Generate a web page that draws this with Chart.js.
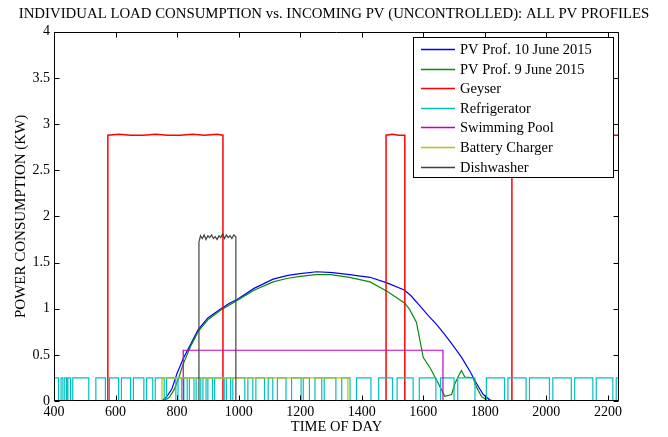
<!DOCTYPE html>
<html>
<head>
<meta charset="utf-8">
<script src="https://cdn.jsdelivr.net/npm/chart.js@4.4.1/dist/chart.umd.min.js"></script>
<style>
html, body { margin: 0; padding: 0; background: #fff; }
</style>
</head>
<body>
<canvas id="mycanvas" width="668" height="437"></canvas>
<script>
// time of day (x) and power in kW (y)
var pv10Time = [400, 751, 767, 783, 800, 810, 820, 842, 868, 900, 939, 970, 995, 1050, 1112, 1160, 1200, 1254, 1306, 1360, 1427, 1482, 1540, 1560, 1589, 1615, 1643, 1670, 1697, 1725, 1752, 1773, 1795, 1817, 1835, 2236];
var pv10Kw   = [0, 0, 0.05, 0.13, 0.30, 0.38, 0.46, 0.60, 0.77, 0.90, 0.99, 1.06, 1.10, 1.22, 1.32, 1.36, 1.38, 1.40, 1.39, 1.37, 1.34, 1.28, 1.20, 1.14, 1.03, 0.93, 0.83, 0.72, 0.60, 0.47, 0.32, 0.19, 0.07, 0.01, 0, 0];

var pv9Time = [400, 755, 775, 790, 805, 820, 845, 870, 900, 940, 995, 1050, 1112, 1160, 1200, 1250, 1300, 1360, 1427, 1482, 1540, 1556, 1578, 1589, 1600, 1622, 1649, 1670, 1692, 1703, 1719, 1724, 1735, 1762, 1773, 1789, 1806, 1820, 2236];
var pv9Kw   = [0, 0, 0.04, 0.12, 0.25, 0.40, 0.60, 0.76, 0.88, 0.98, 1.09, 1.20, 1.29, 1.33, 1.35, 1.37, 1.37, 1.34, 1.29, 1.19, 1.06, 0.99, 0.85, 0.66, 0.47, 0.36, 0.19, 0.05, 0.07, 0.19, 0.30, 0.33, 0.26, 0.25, 0.15, 0.05, 0.01, 0, 0];

var geyserTime = [400, 575, 575, 610, 650, 690, 730, 770, 810, 850, 890, 930, 949, 949, 1479, 1479, 1500, 1520, 1540, 1540, 1888, 1888, 1950, 2050, 2150, 2236];
var geyserKw   = [0, 0, 2.88, 2.89, 2.88, 2.88, 2.89, 2.88, 2.88, 2.89, 2.88, 2.89, 2.88, 0, 0, 2.88, 2.89, 2.88, 2.88, 0, 0, 2.88, 2.89, 2.88, 2.88, 2.88];

// refrigerator on-periods [start, end] at fridgeLevel kW, off otherwise
var fridgeLevel = 0.25;
var fridgeOn = [
  [400, 415], [423, 429], [435, 441], [445, 454], [461, 513], [536, 567], [580, 610], [619, 649], [658, 692], [701, 721], [729, 758],
  [766, 796], [803, 815], [822, 833], [840, 855], [862, 877], [884, 894], [900, 915], [922, 953], [960, 974], [981, 1020], [1030, 1046],
  [1056, 1084], [1096, 1111], [1126, 1154], [1172, 1203], [1210, 1230], [1248, 1270], [1278, 1316], [1335, 1362],
  [1383, 1430], [1455, 1500], [1515, 1567], [1587, 1641], [1656, 1700], [1712, 1768],
  [1805, 1864], [1875, 1934], [1945, 2010], [2021, 2081], [2092, 2151], [2162, 2216], [2227, 2236]
];

var poolTime = [400, 820, 820, 1000, 1200, 1400, 1600, 1664, 1664, 2236];
var poolKw   = [0, 0, 0.55, 0.55, 0.55, 0.55, 0.55, 0.55, 0, 0];

var chargerTime = [400, 751, 751, 900, 1050, 1200, 1355, 1355, 2236];
var chargerKw   = [0, 0, 0.25, 0.25, 0.25, 0.25, 0.25, 0, 0];

var dishTime = [400, 871, 871, 876, 882, 888, 894, 900, 906, 912, 918, 924, 930, 936, 942, 948, 954, 960, 966, 972, 978, 984, 991, 991, 2236];
var dishKw   = [0, 0, 1.72, 1.79, 1.76, 1.80, 1.75, 1.79, 1.77, 1.80, 1.76, 1.78, 1.75, 1.79, 1.77, 1.81, 1.76, 1.80, 1.77, 1.79, 1.76, 1.80, 1.78, 0, 0];

var xMin = 400, xMax = 2236;
var xTickValues = [400, 600, 800, 1000, 1200, 1400, 1600, 1800, 2000, 2200];
var yMin = 0, yMax = 4;
var yTickValues = [0, 0.5, 1, 1.5, 2, 2.5, 3, 3.5, 4];

function pts(xs, ys) {
    var out = [];
    for (var i = 0; i < xs.length; i++) out.push({x: xs[i], y: ys[i]});
    return out;
}

function fridgePts() {
    var out = [{x: xMin, y: 0}];
    fridgeOn.forEach(function(iv) {
        out.push({x: iv[0], y: 0}, {x: iv[0], y: fridgeLevel}, {x: iv[1], y: fridgeLevel}, {x: iv[1], y: 0});
    });
    out.push({x: xMax, y: 0});
    return out;
}

var serif = 'Liberation Serif';

var series = [
    {label: 'PV Prof. 10 June 2015', color: '#0000ff', width: 1.2, data: pts(pv10Time, pv10Kw)},
    {label: 'PV Prof. 9 June 2015', color: '#0a8c0a', width: 1.2, data: pts(pv9Time, pv9Kw)},
    {label: 'Geyser', color: '#ff0000', width: 1.5, data: pts(geyserTime, geyserKw)},
    {label: 'Refrigerator', color: '#00bfbf', width: 1.2, data: fridgePts()},
    {label: 'Swimming Pool', color: '#bf00bf', width: 1.2, data: pts(poolTime, poolKw)},
    {label: 'Battery Charger', color: '#bfbf00', width: 1.2, data: pts(chargerTime, chargerKw)},
    {label: 'Dishwasher', color: '#404040', width: 1.2, data: pts(dishTime, dishKw)}
];

var datasets = series.map(function(s, i) {
    return {
        label: s.label,
        data: s.data,
        borderColor: s.color,
        backgroundColor: s.color,
        borderWidth: s.width,
        pointRadius: 0,
        fill: false,
        tension: 0,
        order: -i   // later series on top, like the original plot
    };
});

function setTicks(values) {
    return function(s) {
        s.ticks = values.map(function(v) { return {value: v}; });
    };
}

// box round the plot with inward ticks, and the legend inside the plot
var framePlugin = {
    id: 'frame',
    afterDatasetsDraw: function(chart) {
        var a = chart.chartArea, ctx = chart.ctx;
        var xs = chart.scales.x, ys = chart.scales.y;
        var L = Math.round(a.left) + 0.5, R = Math.round(a.right) - 0.5;
        var T = Math.round(a.top) + 0.5, B = Math.round(a.bottom) - 0.5;
        ctx.save();
        ctx.strokeStyle = '#000';
        ctx.lineWidth = 1;
        ctx.beginPath();
        ctx.rect(L, T, R - L, B - T);
        xs.ticks.forEach(function(t) {
            var px = Math.round(xs.getPixelForValue(t.value)) + 0.5;
            ctx.moveTo(px, B); ctx.lineTo(px, B - 5);
            ctx.moveTo(px, T); ctx.lineTo(px, T + 5);
        });
        ys.ticks.forEach(function(t) {
            var py = Math.round(ys.getPixelForValue(t.value)) + 0.5;
            ctx.moveTo(L, py); ctx.lineTo(L + 5, py);
            ctx.moveTo(R, py); ctx.lineTo(R - 5, py);
        });
        ctx.stroke();
        ctx.restore();
    },
    afterDraw: function(chart) {
        var a = chart.chartArea, ctx = chart.ctx;
        var w = 200, h = 140;
        var bx = Math.round(a.right) - 6 - w;
        var by = Math.round(a.top) + 5;
        ctx.save();
        ctx.fillStyle = '#fff';
        ctx.fillRect(bx, by, w, h);
        ctx.strokeStyle = '#000';
        ctx.lineWidth = 1;
        ctx.strokeRect(bx + 0.5, by + 0.5, w, h);
        ctx.font = '14.5px "' + serif + '"';
        ctx.textBaseline = 'middle';
        ctx.textAlign = 'left';
        series.forEach(function(s, i) {
            var y = Math.round(by + 12 + i * 19.6);
            ctx.strokeStyle = s.color;
            ctx.lineWidth = 1.6;
            ctx.beginPath();
            ctx.moveTo(bx + 8, y + 0.5);
            ctx.lineTo(bx + 42, y + 0.5);
            ctx.stroke();
            ctx.fillStyle = '#000';
            ctx.fillText(s.label, bx + 47, y + 1);
        });
        ctx.restore();
    }
};

var ctx = document.getElementById('mycanvas');
var chart = new Chart(ctx, {
    type: 'line',
    data: {datasets: datasets},
    plugins: [framePlugin],
    options: {
        responsive: false,
        animation: false,
        devicePixelRatio: 1,
        layout: {padding: 0},
        plugins: {
            legend: {display: false},
            tooltip: {enabled: false},
            title: {
                display: true,
                text: 'INDIVIDUAL LOAD CONSUMPTION vs. INCOMING PV (UNCONTROLLED): ALL PV PROFILES',
                color: '#000',
                font: {family: serif, size: 14.8, weight: 'normal', lineHeight: 1.2},
                padding: {top: 5, bottom: 9}
            }
        },
        scales: {
            x: {
                type: 'linear',
                min: xMin,
                max: xMax,
                grid: {display: false, drawTicks: false},
                border: {display: false},
                afterBuildTicks: setTicks(xTickValues),
                ticks: {
                    maxRotation: 0,
                    autoSkip: false,
                    padding: 3,
                    color: '#000',
                    font: {family: serif, size: 14},
                    callback: function(v) { return String(v); }
                },
                title: {
                    display: true,
                    text: 'TIME OF DAY',
                    color: '#000',
                    font: {family: serif, size: 14.5, lineHeight: 1.2},
                    padding: {top: 0, bottom: 1}
                },
                afterFit: function(s) { s.height = 36; }
            },
            y: {
                min: yMin,
                max: yMax,
                grid: {display: false, drawTicks: false},
                border: {display: false},
                afterBuildTicks: setTicks(yTickValues),
                ticks: {
                    padding: 4,
                    color: '#000',
                    font: {family: serif, size: 14},
                    callback: function(v) { return String(v); }
                },
                title: {
                    display: true,
                    text: 'POWER CONSUMPTION (KW)',
                    color: '#000',
                    font: {family: serif, size: 15, lineHeight: 1.2},
                    padding: {top: 12, bottom: 0}
                },
                afterFit: function(s) { s.width = 54; }
            },
            yRight: {
                position: 'right',
                min: yMin,
                max: yMax,
                grid: {display: false, drawTicks: false},
                border: {display: false},
                ticks: {display: false},
                afterFit: function(s) { s.width = 49; }
            }
        }
    }
});
</script>
</body>
</html>
